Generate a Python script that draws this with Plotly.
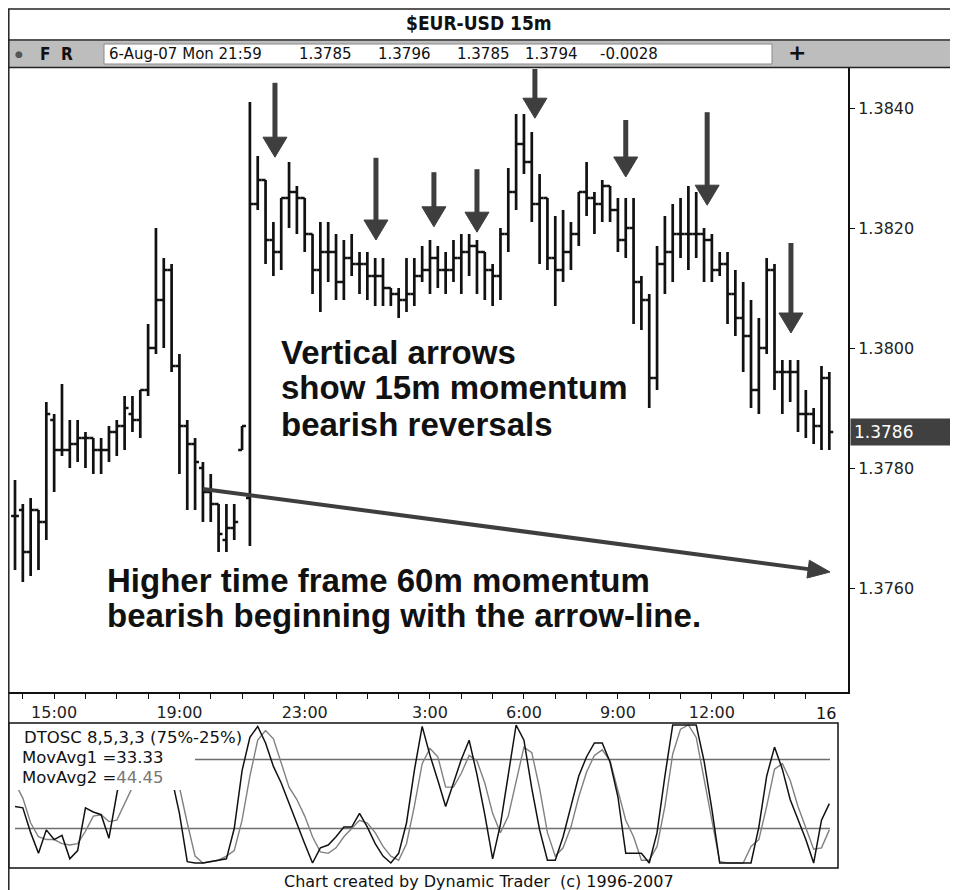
import plotly.graph_objects as go

# ---------------- data ----------------
bar_index = list(range(105))  # 15-minute bars, 13:45 -> 15:45 next day

opens = [1.3772,1.3773,1.3766,1.3773,1.3771,1.3788,1.3783,1.3783,1.3784,1.3785,
         1.3785,1.3783,1.3783,1.3786,1.3787,1.3789,1.3788,1.3793,1.3800,1.3808,
         1.3813,1.3797,1.3787,1.3784,1.3780,1.3776,1.3774,1.3768,1.3770,1.3783,
         1.3775,1.3824,1.3828,1.3818,1.3816,1.3825,1.3826,1.3825,1.3819,1.3813,
         1.3816,1.3816,1.3811,1.3815,1.3814,1.3814,1.3812,1.3812,1.3810,1.3809,
         1.3808,1.3809,1.3812,1.3813,1.3815,1.3813,1.3813,1.3815,1.3816,1.3817,
         1.3816,1.3813,1.3812,1.3819,1.3826,1.3834,1.3831,1.3824,1.3825,1.3815,
         1.3813,1.3816,1.3819,1.3826,1.3825,1.3824,1.3827,1.3823,1.3818,1.3820,
         1.3811,1.3808,1.3795,1.3814,1.3816,1.3819,1.3819,1.3819,1.3819,1.3818,
         1.3813,1.3814,1.3809,1.3805,1.3802,1.3793,1.3800,1.3813,1.3796,1.3796,
         1.3796,1.3789,1.3789,1.3787,1.3795]
highs = [1.3778,1.3774,1.3775,1.3773,1.3791,1.3789,1.3794,1.3788,1.3788,1.3786,
         1.3785,1.3785,1.3787,1.3788,1.3792,1.3792,1.3793,1.3804,1.3820,1.3815,
         1.3814,1.3799,1.3788,1.3785,1.3781,1.3779,1.3774,1.3774,1.3774,1.3787,
         1.3841,1.3832,1.3828,1.3821,1.3825,1.3831,1.3827,1.3825,1.3819,1.3821,
         1.3821,1.3819,1.3818,1.3819,1.3816,1.3816,1.3815,1.3815,1.3810,1.3810,
         1.3815,1.3815,1.3817,1.3818,1.3817,1.3816,1.3818,1.3819,1.3819,1.3818,
         1.3816,1.3814,1.3820,1.3830,1.3839,1.3839,1.3836,1.3829,1.3825,1.3822,
         1.3823,1.3821,1.3826,1.3831,1.3826,1.3828,1.3827,1.3825,1.3825,1.3825,
         1.3812,1.3809,1.3817,1.3822,1.3824,1.3825,1.3827,1.3826,1.3820,1.3819,
         1.3816,1.3816,1.3813,1.3811,1.3808,1.3805,1.3815,1.3814,1.3798,1.3798,
         1.3798,1.3793,1.3790,1.3797,1.3796]
lows = [1.3763,1.3761,1.3762,1.3763,1.3768,1.3776,1.3782,1.3780,1.3781,1.3780,
        1.3779,1.3779,1.3781,1.3782,1.3783,1.3786,1.3785,1.3792,1.3799,1.3800,
        1.3796,1.3779,1.3773,1.3773,1.3771,1.3771,1.3766,1.3766,1.3768,1.3783,
        1.3767,1.3823,1.3814,1.3812,1.3813,1.3820,1.3819,1.3816,1.3809,1.3806,
        1.3811,1.3808,1.3808,1.3812,1.3809,1.3808,1.3807,1.3807,1.3807,1.3805,
        1.3806,1.3807,1.3811,1.3809,1.3810,1.3809,1.3811,1.3809,1.3812,1.3809,
        1.3808,1.3807,1.3808,1.3816,1.3823,1.3829,1.3821,1.3814,1.3813,1.3807,
        1.3811,1.3813,1.3817,1.3822,1.3819,1.3821,1.3821,1.3816,1.3815,1.3804,
        1.3803,1.3790,1.3793,1.3809,1.3811,1.3815,1.3813,1.3815,1.3811,1.3811,
        1.3812,1.3804,1.3802,1.3796,1.3790,1.3789,1.3799,1.3793,1.3789,1.3791,
        1.3786,1.3785,1.3784,1.3783,1.3783]
closes = [1.3772,1.3766,1.3773,1.3771,1.3789,1.3783,1.3783,1.3784,1.3785,1.3785,
          1.3783,1.3783,1.3786,1.3787,1.3790,1.3788,1.3793,1.3800,1.3808,1.3813,
          1.3797,1.3787,1.3784,1.3781,1.3776,1.3774,1.3769,1.3770,1.3771,1.3787,
          1.3824,1.3828,1.3818,1.3816,1.3825,1.3826,1.3825,1.3819,1.3813,1.3816,
          1.3816,1.3811,1.3815,1.3814,1.3814,1.3812,1.3812,1.3810,1.3809,1.3808,
          1.3809,1.3812,1.3813,1.3815,1.3813,1.3813,1.3815,1.3816,1.3817,1.3816,
          1.3813,1.3812,1.3819,1.3826,1.3834,1.3831,1.3824,1.3825,1.3815,1.3813,
          1.3816,1.3819,1.3826,1.3825,1.3824,1.3827,1.3823,1.3818,1.3820,1.3811,
          1.3808,1.3795,1.3814,1.3816,1.3819,1.3819,1.3819,1.3819,1.3818,1.3813,
          1.3814,1.3809,1.3805,1.3802,1.3793,1.3800,1.3813,1.3796,1.3796,1.3796,
          1.3789,1.3789,1.3787,1.3795,1.3786]

dtosc_fast = [41,40,22,7,24,17,20,3,9,40,37,35,18,50,78,90,92,97,100,96,
              62,36,1,0,0,1,2,3,25,67,91,99,87,70,58,43,29,14,0,11,
              13,19,26,26,36,26,14,5,0,7,29,67,99,78,60,41,58,75,89,64,
              35,3,28,63,100,89,54,24,2,2,19,41,63,77,87,87,73,48,7,7,
              7,0,22,63,100,100,100,100,74,39,0,0,0,0,0,26,63,84,68,46,
              31,17,0,31,43]
dtosc_slow = [58,47,29,19,17,17,14,13,14,23,34,35,30,31,43,55,65,80,92,97,
              90,55,29,5,0,1,2,5,9,31,63,89,96,90,72,55,46,34,19,8,
              7,11,19,25,31,29,22,12,5,2,14,41,72,83,77,55,55,65,78,74,
              58,36,22,34,60,84,80,54,22,5,11,26,48,66,78,82,74,53,31,19,
              2,2,12,41,79,97,100,91,60,29,1,0,0,0,12,17,41,68,72,60,
              41,26,10,11,24]
osc_levels = [75, 25]

price_ticks = [1.3760, 1.3780, 1.3800, 1.3820, 1.3840]
hour_ticks = list(range(1, 105, 4))
hour_labels = {5: "15:00", 21: "19:00", 37: "23:00", 53: "3:00", 65: "6:00",
               77: "9:00", 89: "12:00"}
last_price = 1.3786
quote_items = ["6-Aug-07 Mon 21:59", "1.3785", "1.3796", "1.3785", "1.3794", "-0.0028"]

# ---------------- geometry helpers (screen pixels; page has an 8px body margin) ----------------
OFF = 8
W, H = 958 - OFF, 890 - OFF
X0_PX, STEP_PX = 15.0, 7.83          # screen pixel of bar 0, pixels per bar
Y_REF_PX, PX_PER_PRICE = 348.0, 60000.0  # 1.3800 at screen y=348


def fx(x):
    return (x - OFF) / W


def fy(y):
    return 1 - (y - OFF) / H


def px_to_bar(x):
    return (x - X0_PX) / STEP_PX


def px_to_price(y):
    return 1.3800 - (y - Y_REF_PX) / PX_PER_PRICE


MAIN_L, MAIN_R, MAIN_T, MAIN_B = 8, 848, 68, 692
OSC_L, OSC_R, OSC_T, OSC_B = 8, 838, 723, 868

fig = go.Figure()

fig.add_trace(go.Ohlc(
    x=bar_index, open=opens, high=highs, low=lows, close=closes,
    increasing=dict(line=dict(color="#111111", width=2.7)),
    decreasing=dict(line=dict(color="#111111", width=2.7)),
    tickwidth=0.5, hoverinfo="skip", showlegend=False,
    xaxis="x", yaxis="y"))

fig.add_trace(go.Scatter(
    x=bar_index, y=dtosc_slow, mode="lines",
    line=dict(color="#808080", width=1.4), hoverinfo="skip",
    showlegend=False, xaxis="x2", yaxis="y2"))
fig.add_trace(go.Scatter(
    x=bar_index, y=dtosc_fast, mode="lines",
    line=dict(color="#111111", width=1.5), hoverinfo="skip",
    showlegend=False, xaxis="x2", yaxis="y2"))

SANS = "DejaVu Sans, Verdana, sans-serif"

fig.update_layout(
    width=W, height=H,
    margin=dict(l=0, r=0, t=0, b=0),
    paper_bgcolor="white", plot_bgcolor="white",
    showlegend=False,
    xaxis=dict(
        domain=[fx(MAIN_L), fx(MAIN_R)],
        range=[px_to_bar(MAIN_L), px_to_bar(MAIN_R)],
        anchor="y", showgrid=False, zeroline=False,
        showline=True, linecolor="#111111", linewidth=1.5,
        ticks="outside", ticklen=5, tickcolor="#111111", tickwidth=1,
        tickvals=hour_ticks,
        ticktext=[hour_labels.get(t, "") for t in hour_ticks],
        tickfont=dict(family=SANS, size=16, color="#222222"),
        rangeslider=dict(visible=False), fixedrange=True),
    yaxis=dict(
        domain=[fy(MAIN_B), fy(MAIN_T)],
        range=[px_to_price(MAIN_B), px_to_price(MAIN_T)],
        anchor="x", side="right", showgrid=False, zeroline=False,
        showline=True, linecolor="#111111", linewidth=2,
        ticks="outside", ticklen=5, tickcolor="#111111", tickwidth=1,
        tickvals=price_ticks, ticktext=[f"{v:.4f}" for v in price_ticks],
        tickfont=dict(family=SANS, size=16, color="#222222"), fixedrange=True),
    xaxis2=dict(
        domain=[fx(OSC_L), fx(OSC_R)],
        range=[px_to_bar(OSC_L), px_to_bar(OSC_R)],
        anchor="y2", visible=False, fixedrange=True),
    yaxis2=dict(
        domain=[fy(OSC_B), fy(OSC_T)],
        range=[(863 - OSC_B) / 1.38, (863 - OSC_T) / 1.38],
        anchor="x2", visible=False, fixedrange=True),
)

shapes = []
ann = []
DARK = "#3e3e3e"

# oscillator reference levels (below traces)
for lv in osc_levels:
    shapes.append(dict(type="line", xref="x2", yref="y2", layer="below",
                       x0=0, x1=px_to_bar(830), y0=lv, y1=lv,
                       line=dict(color="#6e6e6e", width=1.3)))

# white legend box in oscillator panel (covers lines)
shapes.append(dict(type="rect", xref="paper", yref="paper", layer="above",
                   x0=fx(OSC_L + 1), x1=fx(195), y0=fy(790), y1=fy(OSC_T + 1),
                   fillcolor="white", line=dict(width=0)))
# oscillator frame
shapes.append(dict(type="rect", xref="paper", yref="paper", layer="above",
                   x0=fx(OSC_L + 0.8), x1=fx(OSC_R), y0=fy(OSC_B), y1=fy(OSC_T),
                   line=dict(color="#111111", width=1.5)))

# title bar / toolbar
shapes.append(dict(type="line", xref="paper", yref="paper", x0=fx(8), x1=1,
                   y0=fy(9), y1=fy(9), line=dict(color="#222222", width=1.5)))
shapes.append(dict(type="rect", xref="paper", yref="paper", x0=fx(8), x1=1,
                   y0=fy(67), y1=fy(40), fillcolor="#bdbdbd",
                   line=dict(width=0)))
shapes.append(dict(type="line", xref="paper", yref="paper", x0=fx(8), x1=1,
                   y0=fy(40), y1=fy(40), line=dict(color="#555555", width=2)))
shapes.append(dict(type="line", xref="paper", yref="paper", x0=fx(8), x1=1,
                   y0=fy(67.5), y1=fy(67.5), line=dict(color="#222222", width=1.5)))
shapes.append(dict(type="rect", xref="paper", yref="paper", x0=fx(104), x1=fx(772),
                   y0=fy(64), y1=fy(44), fillcolor="white",
                   line=dict(color="#8a8a8a", width=1)))
# left frame line
shapes.append(dict(type="line", xref="paper", yref="paper", x0=fx(8.8), x1=fx(8.8),
                   y0=0, y1=fy(9), line=dict(color="#222222", width=1.5)))

# vertical reversal arrows: (bar position, top price, tip price)
arrows = [(33.2, 1.38442, 1.38318), (46.1, 1.38317, 1.38180),
          (53.5, 1.38293, 1.38202), (59.0, 1.38298, 1.38193),
          (66.4, px_to_price(MAIN_T + 1), 1.38383), (78.0, 1.38380, 1.38285),
          (88.4, 1.38393, 1.38238), (99.1, 1.38175, 1.38025)]
head_h = 20 / PX_PER_PRICE
head_hw = 12 / STEP_PX
for xb, top, tip in arrows:
    shapes.append(dict(type="line", xref="x", yref="y", layer="above",
                       x0=xb, x1=xb, y0=top, y1=tip + head_h * 0.6,
                       line=dict(color=DARK, width=5)))
    shapes.append(dict(type="path", xref="x", yref="y", layer="above",
                       path=f"M {xb - head_hw} {tip + head_h} L {xb + head_hw} {tip + head_h} L {xb} {tip} Z",
                       fillcolor=DARK, line=dict(color=DARK, width=1)))

# long diagonal arrow-line (screen pixel geometry)
sx, sy = 203, 489
ex, ey = 830, 572
dx, dy = ex - sx, ey - sy
ln = (dx ** 2 + dy ** 2) ** 0.5
ux, uy = dx / ln, dy / ln
hl, hw = 22, 9
bx, by = ex - ux * hl, ey - uy * hl
p1 = (bx - uy * hw, by + ux * hw)
p2 = (bx + uy * hw, by - ux * hw)
shapes.append(dict(type="line", xref="x", yref="y", layer="above",
                   x0=px_to_bar(sx), y0=px_to_price(sy),
                   x1=px_to_bar(bx + ux * 4), y1=px_to_price(by + uy * 4),
                   line=dict(color=DARK, width=4)))
shapes.append(dict(type="path", xref="x", yref="y", layer="above",
                   path=(f"M {px_to_bar(ex)} {px_to_price(ey)} "
                         f"L {px_to_bar(p1[0])} {px_to_price(p1[1])} "
                         f"L {px_to_bar(p2[0])} {px_to_price(p2[1])} Z"),
                   fillcolor=DARK, line=dict(color=DARK, width=1)))


# ---------------- text ----------------
def text(x, y, s, size, anchor="left", color="#111111", family=SANS, **kw):
    ann.append(dict(xref="paper", yref="paper", x=fx(x), y=fy(y), text=s,
                    showarrow=False, xanchor=anchor, yanchor="middle",
                    font=dict(family=family, size=size, color=color), **kw))


NARROW = "Liberation Sans Narrow, DejaVu Sans Condensed, Arial Narrow, sans-serif"
text(479, 23, "<b>$EUR-USD 15m</b>", 19, anchor="center", family=NARROW)
text(19, 54, "●", 9, anchor="center", color="#555555")
text(45, 54, "<b>F</b>", 17, anchor="center", family=NARROW)
text(67, 54, "<b>R</b>", 17, anchor="center", family=NARROW)
for xs, item in zip([107, 297, 376, 455, 523, 598], quote_items):
    text(xs, 54, item, 15)
text(797, 53, "<b>+</b>", 22, anchor="center")

BIG = "Liberation Sans, Arial, Helvetica, sans-serif"
for k, line in enumerate(["Vertical arrows", "show 15m momentum", "bearish reversals"]):
    text(279, 352 + 36 * k, f"<b>{line}</b>", 33, family=BIG)
for k, line in enumerate(["Higher time frame 60m momentum",
                          "bearish beginning with the arrow-line."]):
    text(105, 580 + 35 * k, f"<b>{line}</b>", 33, family=BIG)

# price marker
ann.append(dict(xref="paper", yref="y", x=fx(850), y=last_price, text=f"{last_price:.4f}",
                showarrow=False, xanchor="left", yanchor="middle", align="left",
                bgcolor="#404040", width=100, height=20, borderpad=3,
                font=dict(family=SANS, size=17, color="white")))

text(826, 713, "16", 16, anchor="center")

text(22, 737, "DTOSC 8,5,3,3 (75%-25%)", 16.5)
text(20, 757, "MovAvg1 =33.33", 16.5)
text(20, 777, "MovAvg2 =<span style='color:#777777'>44.45</span>", 16.5)

text(479, 881, "Chart created by Dynamic Trader&nbsp;&nbsp;(c) 1996-2007", 16, anchor="center")

fig.update_layout(shapes=shapes, annotations=ann)
fig.write_html("out.html")
